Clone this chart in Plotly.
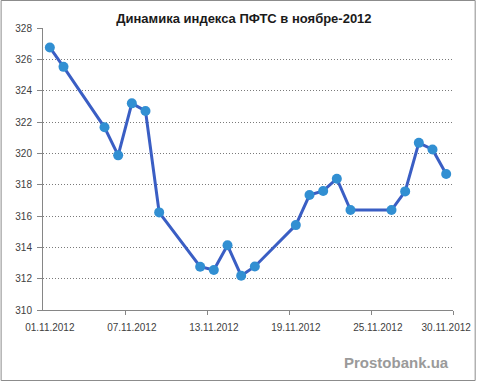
import pandas as pd
import plotly.graph_objects as go

dates = ["01.11.2012", "02.11.2012", "05.11.2012", "06.11.2012", "07.11.2012", "08.11.2012",
         "09.11.2012", "12.11.2012", "13.11.2012", "14.11.2012", "15.11.2012", "16.11.2012",
         "19.11.2012", "20.11.2012", "21.11.2012", "22.11.2012", "23.11.2012", "26.11.2012",
         "27.11.2012", "28.11.2012", "29.11.2012", "30.11.2012"]
values = [326.76, 325.52, 321.66, 319.87, 323.19, 322.70, 316.23, 312.76, 312.55, 314.13,
          312.19, 312.78, 315.42, 317.34, 317.60, 318.38, 316.38, 316.38, 317.57, 320.67,
          320.25, 318.68]
tick_labels = ["01.11.2012", "07.11.2012", "13.11.2012", "19.11.2012", "25.11.2012", "30.11.2012"]
tick_marks = ["07.11.2012", "13.11.2012", "19.11.2012", "25.11.2012", "01.12.2012"]
title = "Динамика индекса ПФТС в ноябре-2012"
watermark = "Prostobank.ua"

x = pd.to_datetime(dates, format="%d.%m.%Y") + pd.Timedelta(hours=12)
label_pos = pd.to_datetime(tick_labels, format="%d.%m.%Y") + pd.Timedelta(hours=12)
mark_pos = pd.to_datetime(tick_marks, format="%d.%m.%Y")

fig = go.Figure()
fig.add_trace(go.Scatter(
    x=x, y=values, mode="lines+markers",
    line=dict(color="#3A5EC4", width=3),
    marker=dict(color="#318FD2", size=10, line=dict(width=0)),
    hoverinfo="x+y", showlegend=False,
))

axis_color = "#868686"
fig.update_layout(
    width=483, height=384,
    margin=dict(l=43, r=24, t=28, b=74),
    paper_bgcolor="white", plot_bgcolor="white",
    font=dict(family="Liberation Sans, Arial, sans-serif", size=10, color="#404040"),
    title=dict(text="<b>" + title + "</b>", x=0.505, xanchor="center", y=0.953, yanchor="middle",
               font=dict(family="Liberation Sans, Arial, sans-serif", size=13, color="#1a1a1a")),
    xaxis=dict(
        type="date",
        range=[pd.Timestamp("2012-11-01"), pd.Timestamp("2012-12-01")],
        tickvals=list(label_pos), ticktext=tick_labels, ticks="",
        ticklabelstandoff=8,
        showgrid=False, showline=True, linecolor=axis_color, linewidth=1,
        zeroline=False,
        minor=dict(tickvals=list(mark_pos), ticks="outside", ticklen=4,
                   tickcolor=axis_color, tickwidth=1, showgrid=False),
        tickfont=dict(size=10, color="#404040"),
    ),
    yaxis=dict(
        range=[310, 328], dtick=2, tick0=310,
        showgrid=True, gridcolor="#7a7a7a", griddash="1px,2px", gridwidth=1,
        showline=True, linecolor=axis_color, linewidth=1,
        ticks="outside", ticklen=5, tickcolor=axis_color,
        ticklabelstandoff=3,
        zeroline=False,
        tickfont=dict(size=10, color="#404040"),
    ),
)

# watermark
fig.add_annotation(text="<b>" + watermark + "</b>", xref="paper", yref="paper",
                   x=(402 - 43) / 416, y=-(362 - 310) / 282, xanchor="center", yanchor="middle",
                   showarrow=False,
                   font=dict(family="Liberation Sans, Arial, sans-serif", size=15, color="#9a9a9a"))

# chart border
fig.add_shape(type="rect", xref="paper", yref="paper",
              x0=-42.5 / 416, x1=(481.5 - 43) / 416, y0=-(380.5 - 310) / 282, y1=(310 - 0.5) / 282,
              line=dict(color="#8c8c8c", width=1), fillcolor="rgba(0,0,0,0)", layer="above")

fig.write_html("out.html", post_script="document.body.style.margin='0';",
               config={"displayModeBar": False})
